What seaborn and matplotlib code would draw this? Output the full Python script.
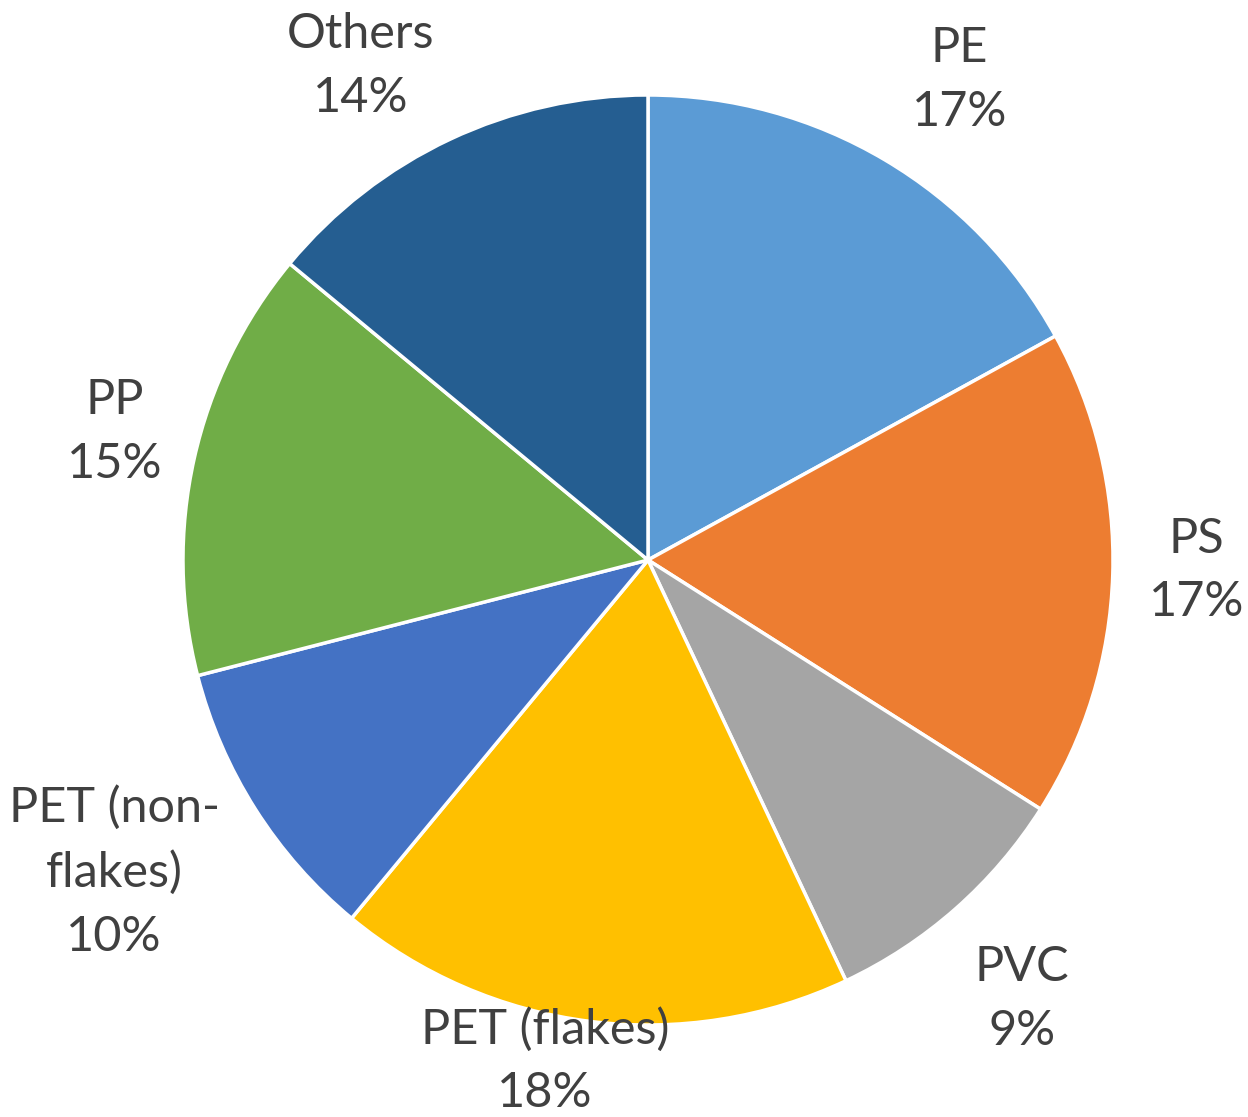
import numpy as np
import matplotlib.pyplot as plt
import seaborn as sns

sns.set_theme(style="white")
plt.rcParams["font.family"] = ["Lato", "DejaVu Sans"]

# dati (percentuali)
categorie = ["PE", "PS", "PVC", "PET (flakes)", "PET (non-\nflakes)", "PP", "Others"]
valori = [17, 17, 9, 18, 10, 15, 14]
colori = ["#5B9BD5", "#ED7D31", "#A5A5A5", "#FFC000", "#4472C4", "#70AD47", "#255E91"]
# posizione delle etichette: distanza dal centro (in raggi) e spostamento angolare (gradi)
distanze = [1.23, 1.18, 1.24, 1.10, 1.33, 1.18, 1.23]
spostamenti = [-2.4, 0.7, -1.0, -4.4, -2.1, -0.9, 5.0]

etichette = [f"{c}\n{v}%" for c, v in zip(categorie, valori)]

fig = plt.figure(figsize=(12.48, 11.17), dpi=100)
ax = fig.add_axes([183 / 1248, 92 / 1117, 930 / 1248, 930 / 1117])

wedges, testi = ax.pie(
    valori,
    labels=etichette,
    colors=colori,
    startangle=90,
    counterclock=False,
    radius=1,
    wedgeprops=dict(edgecolor="white", linewidth=2.5),
    labeldistance=1.2,
)

for w, t, d, s in zip(wedges, testi, distanze, spostamenti):
    ang = np.deg2rad((w.theta1 + w.theta2) / 2 + s)
    t.set_position((d * np.cos(ang), d * np.sin(ang)))
    t.set_ha("center")
    t.set_va("center")
    t.set_multialignment("center")
    t.set_fontsize(35)
    t.set_color("#404040")
    t.set_linespacing(1.55)

ax.set_xlim(-1, 1)
ax.set_ylim(-1, 1)
ax.set_aspect("equal")
ax.axis("off")

fig.savefig("out.png", dpi=100)
